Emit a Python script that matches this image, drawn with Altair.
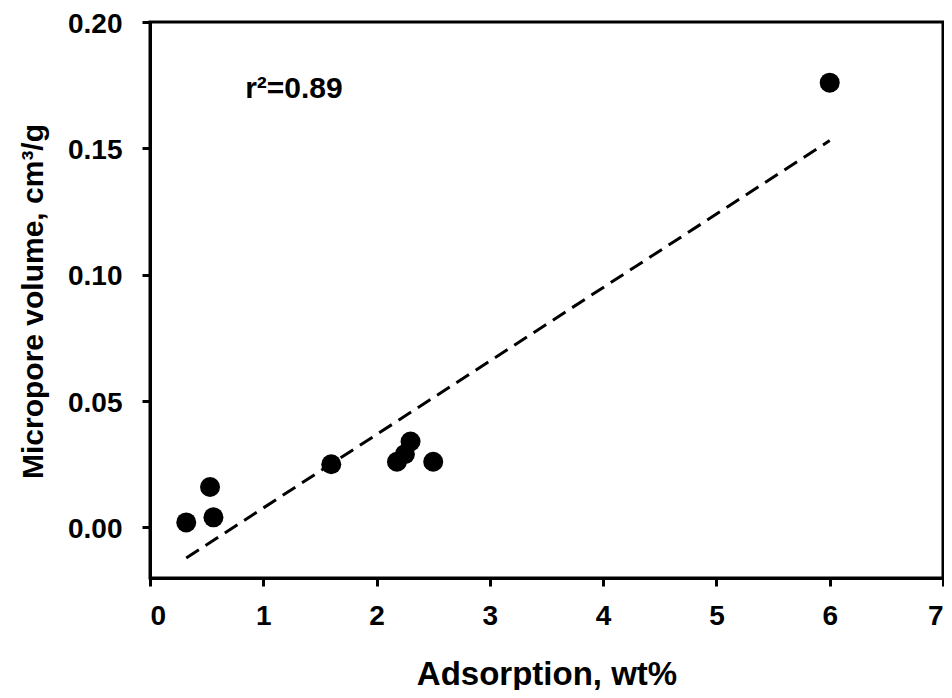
import altair as alt
import pandas as pd

adsorption = [0.32, 0.53, 0.56, 1.60, 2.18, 2.25, 2.30, 2.50, 6.00]
micropore = [0.002, 0.016, 0.004, 0.025, 0.026, 0.029, 0.034, 0.026, 0.176]
annotation = ["r²=0.89"]
ann_x = [0.84]
ann_y = [0.170]
x_ticks = [0, 1, 2, 3, 4, 5, 6, 7]
y_ticks = [0, 0.05, 0.10, 0.15, 0.20]

df = pd.DataFrame({"x": adsorption, "y": micropore})
ann = pd.DataFrame({"x": ann_x, "y": ann_y, "t": annotation})

FONT = "Liberation Sans"

xs = alt.Scale(domain=[0, 7], nice=False, zero=False)
ys = alt.Scale(domain=[-0.02, 0.20], nice=False, zero=False)

xaxis = alt.Axis(values=x_ticks, format="d", title="Adsorption, wt%",
                 labelPadding=16, titleFontSize=33,
                 titleY=106, titleBaseline="alphabetic", titleAlign="center")
yaxis = alt.Axis(values=y_ticks, format=".2f", title="Micropore volume, cm³/g",
                 labelPadding=20, labelOffset=2, titleFontSize=30,
                 titleX=-108, titleY=279, titleAlign="center", titleBaseline="alphabetic")

points = alt.Chart(df).mark_circle(size=400, color="black", opacity=1).encode(
    x=alt.X("x:Q", scale=xs, axis=xaxis),
    y=alt.Y("y:Q", scale=ys, axis=yaxis),
)

fit = alt.Chart(df).transform_regression("x", "y", method="linear").mark_line(
    color="black", strokeWidth=3, strokeDash=[15, 8]
).encode(x=alt.X("x:Q", scale=xs, axis=xaxis), y=alt.Y("y:Q", scale=ys, axis=yaxis))

label = alt.Chart(ann).mark_text(font=FONT, fontWeight="bold", fontSize=30, align="left",
                                 baseline="alphabetic", color="black").encode(
    x=alt.X("x:Q", scale=xs, axis=xaxis), y=alt.Y("y:Q", scale=ys, axis=yaxis), text="t:N")

chart = alt.layer(fit, points, label).properties(
    width=793, height=556,
    background="white",
    autosize=alt.AutoSizeParams(type="none"),
    padding={"left": 142, "top": 14, "right": 1, "bottom": 112},
).configure_view(
    stroke="black", strokeWidth=3
).configure_axis(
    grid=False, tickSize=8, tickWidth=3, tickColor="black",
    domainColor="black", domainWidth=3,
    labelFontSize=28, labelFont=FONT, labelFontWeight="bold", labelColor="black",
    titleFont=FONT, titleFontWeight="bold", titleColor="black",
)

chart.save("out.html", embed_options={"renderer": "svg", "actions": False})
